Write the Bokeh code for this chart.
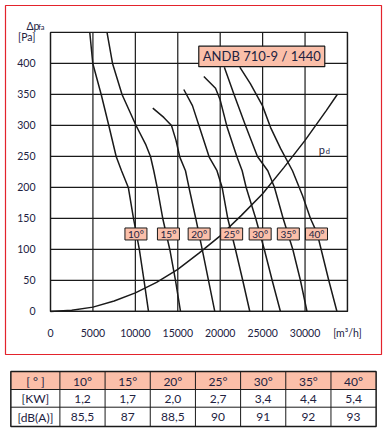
from bokeh.plotting import figure
from bokeh.models import Range1d, FixedTicker
from bokeh.layouts import column
from bokeh.core.properties import value
from bokeh.embed import file_html
from bokeh.resources import INLINE

# ---------------- data ----------------
x_ticks = [0, 5000, 10000, 15000, 20000, 25000, 30000, 35000]
y_ticks = [0, 50, 100, 150, 200, 250, 300, 350, 400]
q_max, p_max = 35000, 450

q10 = [4630, 4985, 5975, 6870, 7740, 8370, 9170, 9780, 10470, 11020, 11550]
p10 = [450, 400, 350, 300, 250, 227, 200, 150, 100, 50, 0]
q15 = [6660, 7310, 8430, 10080, 11200, 11785, 12170, 12570, 13230, 14060, 14730, 15320]
p15 = [450, 400, 350, 300, 270, 250, 227, 200, 150, 100, 50, 0]
q20 = [12055, 13350, 14260, 14790, 15240, 15910, 16320, 17120, 17880, 18620, 19360]
p20 = [328, 313, 300, 276, 249, 227, 200, 150, 100, 50, 0]
q25 = [15710, 16730, 17560, 18700, 19620, 20230, 20890, 21800, 22660, 23490]
p25 = [358, 332, 297, 249, 227, 200, 150, 100, 50, 0]
q30 = [18070, 19450, 19980, 20820, 21980, 22590, 23060, 24190, 25200, 26130, 27100]
p30 = [379, 360, 342, 297, 249, 227, 200, 150, 100, 50, 0]
q35 = [20490, 21630, 22980, 24390, 25610, 26400, 27420, 28560, 29460, 30230]
p35 = [394, 350, 300, 250, 227, 200, 150, 100, 50, 0]
q40 = [22310, 23570, 24980, 25930, 27110, 28520, 29700, 30640, 31430, 31900, 32800, 33760]
p40 = [394, 367, 332, 297, 263, 227, 187, 150, 126, 100, 50, 0]

q_pd = [0, 2500, 5000, 7500, 10000, 12500, 15000, 17500, 20000, 22500, 25000, 27500, 30000, 32500, 33800]
p_pd = [0, 2, 7, 17, 30, 47, 68, 94, 122, 155, 190, 232, 276, 324, 350]

angles = ["10°", "15°", "20°", "25°", "30°", "35°", "40°"]
power_kw = ["1,2", "1,7", "2,0", "2,7", "3,4", "4,4", "5,4"]
noise_db = ["85,5", "87", "88,5", "90", "91", "92", "93"]
row_heads = ["[ ° ]", "[KW]", "[dB(A)]"]
title_text = "ANDB 710-9 / 1440"

# ---------------- styles / layout ----------------
SALMON = "#fbbfa9"
INK = "#1a1a1a"
TXT = "#22223f"
RED = "#e3232c"
FONT = "Lato"

# the frame is the red box; ranges extend beyond the diagram area
X0, X1 = -5304, 39011
Y0, Y1 = -69.4, 493.5

lbl_x = [10070, 13900, 17520, 21350, 24710, 28030, 31350]
lbl_y = 125
pa_tick = 443.5

p = figure(width=387, height=356, x_range=Range1d(X0, X1), y_range=Range1d(Y0, Y1),
           output_backend="svg", toolbar_location=None,
           min_border_left=5, min_border_right=6, min_border_top=5, min_border_bottom=2)
p.background_fill_color = "white"
p.border_fill_color = "white"
p.outline_line_color = RED
p.outline_line_width = 1.2

p.xaxis.fixed_location = 0
p.yaxis.fixed_location = 0
p.xaxis.ticker = FixedTicker(ticks=x_ticks)
p.yaxis.ticker = FixedTicker(ticks=y_ticks + [pa_tick])
p.xaxis.major_label_overrides = {35000: "[m³/h]"}
p.yaxis.major_label_overrides = {pa_tick: "[Pa]"}
for ax in (p.xaxis, p.yaxis):
    ax.axis_line_color = None
    ax.major_tick_line_color = None
    ax.minor_tick_line_color = None
    ax.major_label_text_font = FONT
    ax.major_label_text_font_size = "10.5px"
    ax.major_label_text_color = TXT
p.xaxis.major_label_standoff = 10
p.yaxis.major_label_standoff = 9
p.xgrid.visible = False
p.ygrid.visible = False

# diagram grid (limited to the diagram box)
p.segment(x0=x_ticks, y0=[0] * len(x_ticks), x1=x_ticks, y1=[p_max] * len(x_ticks),
          line_color=INK, line_width=1.2)
p.segment(x0=[0] * len(y_ticks), y0=y_ticks, x1=[q_max] * len(y_ticks), y1=y_ticks,
          line_color=INK, line_width=1.2)
p.quad(left=[0], right=[q_max], bottom=[0], top=[p_max], fill_color=None,
       line_color=INK, line_width=1.3)

for qs, ps in [(q10, p10), (q15, p15), (q20, p20), (q25, p25), (q30, p30), (q35, p35), (q40, p40)]:
    p.line(qs, ps, line_color=INK, line_width=1.5)
p.line(q_pd, p_pd, line_color=INK, line_width=1.5)

# angle labels
p.rect(x=lbl_x, y=[lbl_y] * 7, width=22, height=12, width_units="screen", height_units="screen",
       fill_color=SALMON, line_color=INK, line_width=1)
p.text(x=lbl_x, y=[lbl_y] * 7, text=angles, text_align="center", text_baseline="middle",
       text_font=value(FONT), text_font_size="10px", text_color=TXT)

# title box
p.rect(x=[24900], y=[411.3], width=126, height=20.5, width_units="screen", height_units="screen",
       fill_color=SALMON, line_color=INK, line_width=1.2)
p.text(x=[17950], y=[411.3], text=[title_text], text_align="left", text_baseline="middle",
       text_font=value(FONT), text_font_size="13px", text_color=TXT)

# pd label
p.text(x=[31620], y=[260.5], text=["p"], text_align="left", text_baseline="alphabetic",
       text_font=value(FONT), text_font_size="11px", text_color=TXT)
p.text(x=[32450], y=[258.5], text=["d"], text_align="left", text_baseline="alphabetic",
       text_font=value(FONT), text_font_size="7.5px", text_color=TXT)

# y axis title
p.text(x=[-2830], y=[461], text=["Δp"], text_align="left", text_baseline="alphabetic",
       text_font=value(FONT), text_font_size="10.5px", text_color=TXT)
p.text(x=[-1450], y=[458.5], text=["fa"], text_align="left", text_baseline="alphabetic",
       text_font=value(FONT), text_font_size="7.5px", text_color=TXT)

# ---------------- table ----------------
t = figure(width=386, height=72, x_range=Range1d(0, 386), y_range=Range1d(72, 0),
           output_backend="svg", toolbar_location=None, min_border=0)
t.axis.visible = False
t.xgrid.visible = False
t.ygrid.visible = False
t.outline_line_color = None
t.background_fill_color = "white"
t.border_fill_color = "white"

ncol = len(angles) + 1
col_edges = [5.5, 56] + [56 + (381.5 - 56) * (i + 1) / len(angles) for i in range(len(angles))]
row_edges = [15, 33, 50.7, 70]
t.quad(left=[col_edges[0]], right=[col_edges[-1]], top=[row_edges[0]], bottom=[row_edges[1]],
       fill_color=SALMON, line_color=None)
t.segment(x0=col_edges[1:-1], y0=[row_edges[0]] * (ncol - 1), x1=col_edges[1:-1], y1=[row_edges[-1]] * (ncol - 1),
          line_color=INK, line_width=1)
t.segment(x0=[col_edges[0]] * 2, y0=row_edges[1:3], x1=[col_edges[-1]] * 2, y1=row_edges[1:3],
          line_color=INK, line_width=1)
t.quad(left=[col_edges[0]], right=[col_edges[-1]], top=[row_edges[0]], bottom=[row_edges[-1]],
       fill_color=None, line_color=INK, line_width=1.5)

centers = [(col_edges[i] + col_edges[i + 1]) / 2 for i in range(ncol)]
rows = [[row_heads[0]] + angles, [row_heads[1]] + power_kw, [row_heads[2]] + noise_db]
for r, vals in enumerate(rows):
    yc = (row_edges[r] + row_edges[r + 1]) / 2 + 0.5
    t.text(x=centers, y=[yc] * ncol, text=vals, text_align="center", text_baseline="middle",
           text_font=value(FONT), text_font_size="12px", text_color=TXT)

layout = column(p, t, spacing=0)
open("out.html", "w").write(file_html(layout, INLINE))
